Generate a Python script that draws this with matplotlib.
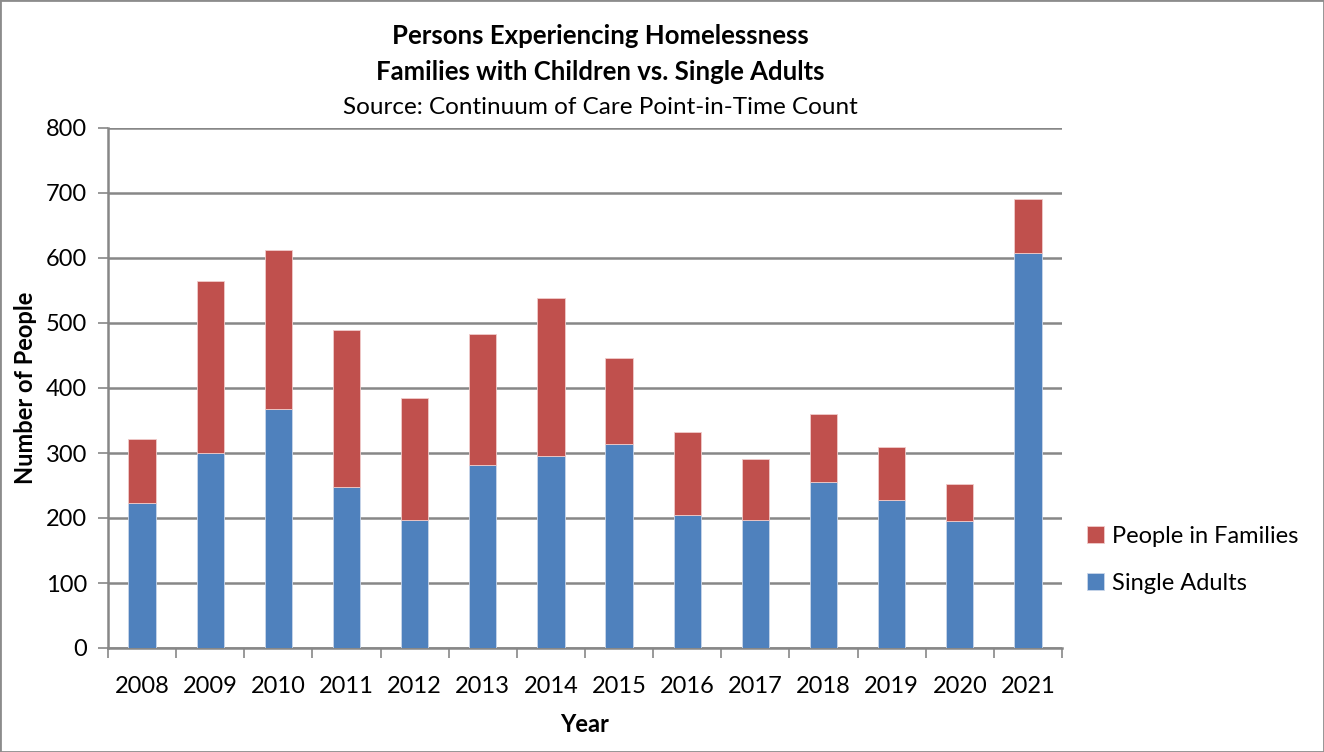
import matplotlib.pyplot as plt
import matplotlib.patches as mpatches
import numpy as np

years = ['2008', '2009', '2010', '2011', '2012', '2013', '2014',
         '2015', '2016', '2017', '2018', '2019', '2020', '2021']
single_adults = [223, 300, 368, 248, 197, 282, 296, 314, 205, 197, 256, 228, 195, 608]
total_people = [321, 565, 613, 489, 384, 483, 538, 446, 332, 291, 360, 309, 253, 691]
families = [t - s for t, s in zip(total_people, single_adults)]

plt.rcParams['font.family'] = ['Lato', 'DejaVu Sans']

blue = '#4F81BD'
red = '#C0504D'
grid_col = '#878787'

fig = plt.figure(figsize=(13.24, 7.52), dpi=100)
ax = fig.add_axes([108 / 1324, 104 / 752, 954 / 1324, 520 / 752])

x = np.arange(len(years))
ax.bar(x, single_adults, width=0.4, color=blue, edgecolor='#c9d6ea', linewidth=0.6,
       label='Single Adults', zorder=3)
ax.bar(x, families, width=0.4, bottom=single_adults, color=red, edgecolor='#f0cccb',
       linewidth=0.6, label='People in Families', zorder=3)

ax.set_xlim(-0.5, len(years) - 0.5)
ax.set_ylim(0, 800)
ax.set_yticks(np.arange(0, 801, 100))
ax.set_xticks(x)
ax.set_xticklabels(years)
ax.set_xticks(np.arange(-0.5, len(years), 1), minor=True)
ax.tick_params(axis='x', which='major', length=0, pad=20, labelsize=17)
ax.tick_params(axis='x', which='minor', length=7, width=1.2, color=grid_col, direction='out')
ax.tick_params(axis='y', length=7, width=1.2, color=grid_col, pad=8, labelsize=17)

ax.yaxis.grid(True, color=grid_col, linewidth=1.8, zorder=0)
ax.set_axisbelow(True)
for side in ['top', 'right']:
    ax.spines[side].set_visible(False)
for side in ['left', 'bottom']:
    ax.spines[side].set_color(grid_col)
    ax.spines[side].set_linewidth(1.8)

ax.set_xlabel('Year', fontsize=17, fontweight='bold', labelpad=12)
ax.set_ylabel('Number of People', fontsize=17, fontweight='bold', labelpad=6)

fig.text(600 / 1324, 1 - 36 / 752, 'Persons Experiencing Homelessness',
         ha='center', va='center', fontsize=18.5, fontweight='bold')
fig.text(600 / 1324, 1 - 72 / 752, 'Families with Children vs. Single Adults',
         ha='center', va='center', fontsize=18.5, fontweight='bold')
fig.text(600 / 1324, 1 - 108 / 752, 'Source: Continuum of Care Point-in-Time Count',
         ha='center', va='center', fontsize=17.5)

handles, labels = ax.get_legend_handles_labels()
fig.legend(handles[::-1], labels[::-1], loc='center left',
           bbox_to_anchor=(1066 / 1324, 1 - 560 / 752), frameon=False,
           fontsize=17, handlelength=0.7, handleheight=0.7, handletextpad=0.35,
           labelspacing=1.1)

fig.patches.append(mpatches.Rectangle((0, 0), 1, 1, transform=fig.transFigure,
                                      fill=False, edgecolor='#8c8c8c', linewidth=2))

fig.savefig('out.png', dpi=100)
